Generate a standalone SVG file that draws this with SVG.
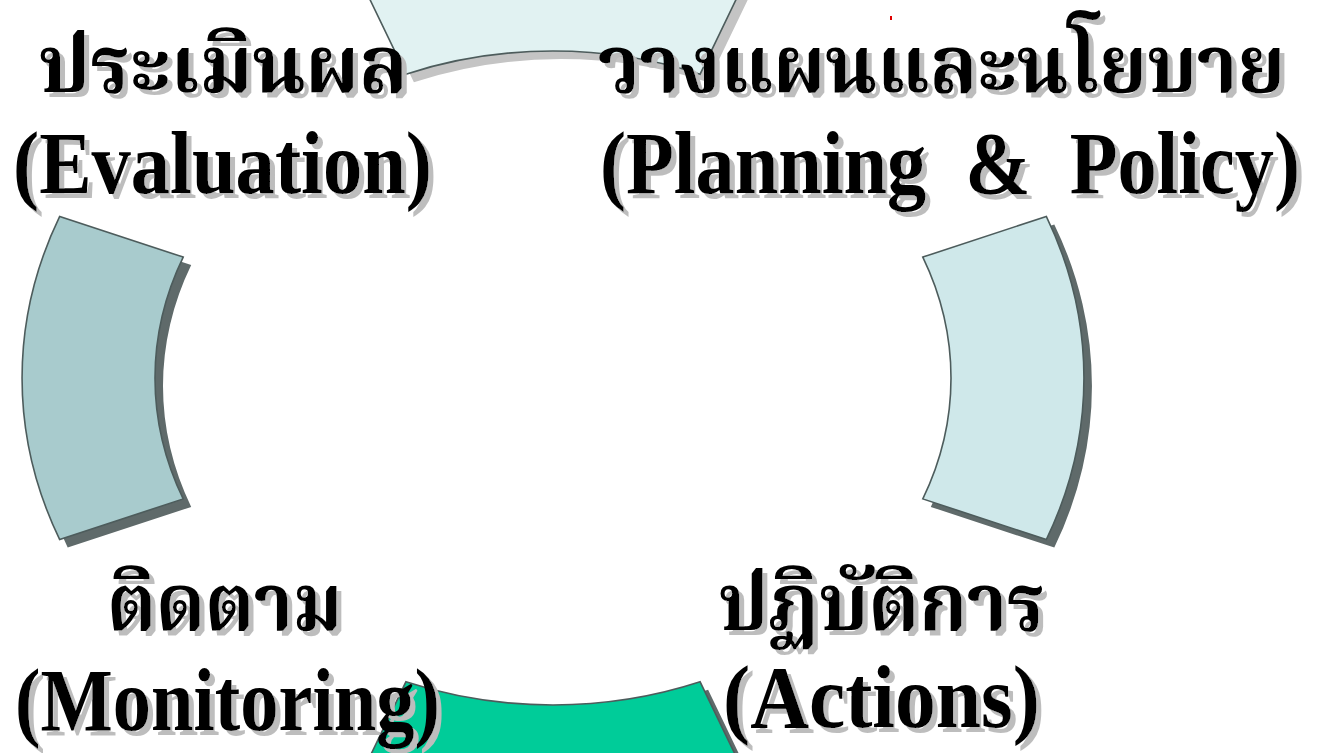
<svg xmlns="http://www.w3.org/2000/svg" xmlns:xlink="http://www.w3.org/1999/xlink" width="1327" height="753" viewBox="0 0 1327 753">
<style>
.seg{stroke:#4d5c5c;stroke-width:1.6;stroke-linejoin:miter}
.shd{fill:#5f6a6a}
.shl{fill:#c4c4c4}
.t{font-family:"Liberation Serif","Noto Serif Thai","Noto Sans Thai",serif;font-weight:bold;font-size:88px;fill:#000}
.th{font-family:"Liberation Serif","Noto Serif Thai","Noto Sans Thai","Noto Sans",serif;font-weight:bold;font-size:80px;fill:#000}
.lbl{filter:url(#tsh)}
</style>
<defs>
<filter id="tsh" x="-5%" y="-10%" width="115%" height="130%">
<feFlood flood-color="#bdbdbd" result="c"/>
<feComposite in="c" in2="SourceAlpha" operator="in" result="s"/>
<feOffset in="s" dx="5" dy="5" result="o"/>
<feMerge><feMergeNode in="o"/><feMergeNode in="SourceGraphic"/></feMerge>
</filter>
<path id="pTop" d="M405.9,74.2 L356.7,-28 A531 437 0 0 1 749.3,-28 L700.1,74.2 A398 327 0 0 0 405.9,74.2 Z"/>
<path id="pRight" d="M922.8,257.1 L1046.3,216.4 A531 437 0 0 1 1046.3,539.6 L922.8,498.9 A398 327 0 0 0 922.8,257.1 Z"/>
<path id="pBottom" d="M405.9,681.8 A398 327 0 0 0 700.1,681.8 L749.3,784 A531 437 0 0 1 356.7,784 Z"/>
<path id="pLeft" d="M183.2,257.1 L59.7,216.4 A531 437 0 0 0 59.7,539.6 L183.2,498.9 A398 327 0 0 1 183.2,257.1 Z"/>
</defs>
<rect width="1327" height="753" fill="#fff"/>
<g id="seg-top">
<use xlink:href="#pTop" href="#pTop" class="shl" transform="translate(8,8)"/>
<use xlink:href="#pTop" href="#pTop" class="seg" fill="#e1f2f2"/>
</g>
<g id="seg-right">
<use xlink:href="#pRight" href="#pRight" class="shd" transform="translate(8,8)"/>
<use xlink:href="#pRight" href="#pRight" class="seg" fill="#cfe8ea"/>
</g>
<g id="seg-bottom">
<use xlink:href="#pBottom" href="#pBottom" class="shd" transform="translate(8,8)"/>
<use xlink:href="#pBottom" href="#pBottom" class="seg" fill="#00cc99"/>
</g>
<g id="seg-left">
<use xlink:href="#pLeft" href="#pLeft" class="shd" transform="translate(8,8)"/>
<use xlink:href="#pLeft" href="#pLeft" class="seg" fill="#a8cbcd"/>
</g>
<rect x="890" y="16" width="2" height="4" fill="#e00000"/>
<g id="label-evaluation" class="lbl">
<text class="th" x="38" y="92" textLength="370" lengthAdjust="spacingAndGlyphs">ประเมินผล</text>
<text class="t" x="13" y="193" textLength="419" lengthAdjust="spacingAndGlyphs">(Evaluation)</text>
</g>
<g id="label-planning" class="lbl">
<text class="th" x="598" y="92" textLength="687" lengthAdjust="spacingAndGlyphs">วางแผนและนโยบาย</text>
<text class="t" x="600" y="193" textLength="700" lengthAdjust="spacingAndGlyphs">(Planning&#160; &amp;&#160; Policy)</text>
</g>
<g id="label-monitoring" class="lbl">
<text class="th" x="107" y="630" textLength="235" lengthAdjust="spacingAndGlyphs">ติดตาม</text>
<text class="t" x="15" y="730" textLength="425" lengthAdjust="spacingAndGlyphs">(Monitoring)</text>
</g>
<g id="label-actions" class="lbl">
<text class="th" x="718" y="630" textLength="327" lengthAdjust="spacingAndGlyphs">ปฏิบัติการ</text>
<text class="t" x="723" y="727" textLength="317" lengthAdjust="spacingAndGlyphs">(Actions)</text>
</g>
</svg>
